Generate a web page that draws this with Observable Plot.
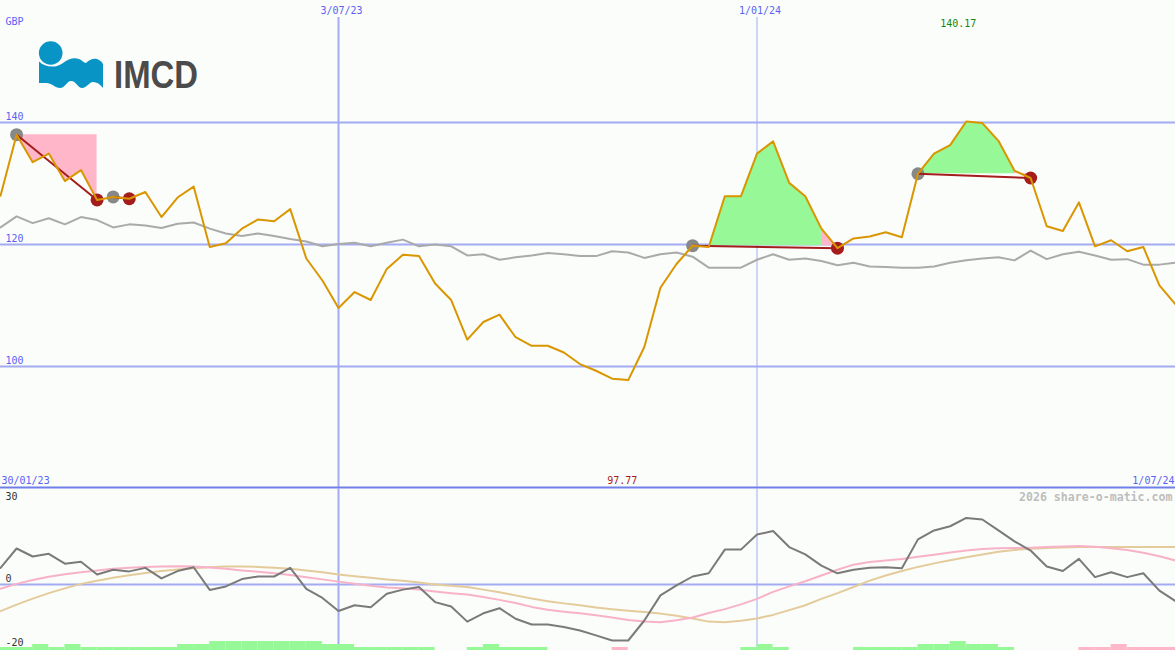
<!DOCTYPE html>
<html>
<head>
<meta charset="utf-8">
<script src="https://cdn.jsdelivr.net/npm/d3@7"></script>
<script src="https://cdn.jsdelivr.net/npm/@observablehq/plot@0.6"></script>
<style>
html, body { margin: 0; padding: 0; background: #fbfdfa; }
#chart { position: relative; width: 1175px; height: 650px; overflow: hidden; background: #fbfdfa; }
#chart > svg, #chart figure { display: block; margin: 0; }
#logo { position: absolute; left: 0; top: 0; }
</style>
</head>
<body>
<div id="chart"></div>
<script>
// ---------- data ----------
const startDate = "2023-02-06";
const endDate = "2024-07-01";
const currency = "GBP";
const rangeLabels = ["30/01/23", "1/07/24"];
const gridDates = ["2023-07-03", "2024-01-01"];
const gridLabels = ["3/07/23", "1/01/24"];
const yTicksTop = [140, 120, 100];
const yTicksBottom = [0, -20];
const yTopLabelBottom = 30;
const watermark = "2026 share-o-matic.com";

// weekly closing price (GBP)
const price = [
  128.0, 138.0, 133.5, 134.9, 130.4, 132.2, 127.3, 127.8, 127.5, 128.6,
  124.5, 127.7, 129.5, 119.6, 120.2, 122.6, 124.1, 123.8, 125.8, 117.7,
  114.1, 109.6, 112.2, 110.9, 116.0, 118.3, 118.1, 113.6, 110.9, 104.4,
  107.3, 108.5, 104.8, 103.4, 103.4, 102.3, 100.4, 99.3, 98.0, 97.77,
  103.2, 112.9, 116.8, 119.8, 119.6, 127.9, 127.9, 134.9, 136.9, 130.1,
  127.9, 122.6, 119.4, 121.0, 121.3, 122.0, 121.2, 131.6, 134.9, 136.3,
  140.17, 139.9, 137.0, 132.1, 130.9, 123.0, 122.2, 126.9, 119.7, 120.7,
  118.9, 119.6, 113.3, 110.2
];

// slow reference line (grey) in top panel
const refLine = [
  122.8, 124.6, 123.5, 124.3, 123.3, 124.5, 124.0, 122.8, 123.3, 123.1,
  122.7, 123.4, 123.6, 122.6, 121.8, 121.4, 121.8, 121.4, 120.9, 120.5,
  119.7, 120.1, 120.3, 119.7, 120.3, 120.8, 119.7, 120.0, 119.7, 118.2,
  118.4, 117.5, 117.9, 118.2, 118.6, 118.4, 118.1, 118.1, 118.9, 118.7,
  117.8, 118.4, 118.7, 118.0, 116.2, 116.2, 116.2, 117.5, 118.4, 117.5,
  117.7, 117.3, 116.6, 117.0, 116.4, 116.3, 116.2, 116.2, 116.4, 117.0,
  117.4, 117.7, 117.9, 117.4, 119.0, 117.6, 118.4, 118.8, 118.2, 117.5,
  117.6, 116.7, 116.7, 117.0
];

// oscillator (dark grey) in bottom panel
const oscillator = [
  5.2, 11.25, 8.75, 9.6, 6.5, 7.1, 3.1, 4.6, 4.1, 5.2,
  1.9, 4.2, 5.4, -1.7, -0.6, 1.7, 2.5, 2.5, 5.2, -1.35,
  -4.2, -8.3, -6.5, -7.1, -2.9, -1.6, -0.8, -5.5, -6.9, -11.6,
  -9.0, -7.4, -10.7, -12.5, -12.5, -13.3, -14.4, -15.9, -17.5, -17.5,
  -11.25, -3.4, -0.3, 2.5, 3.5, 10.9, 10.9, 15.6, 16.7, 11.7,
  9.4, 5.9, 3.5, 4.6, 5.2, 5.4, 5.1, 14.1, 16.9, 18.2,
  20.8, 20.3, 16.9, 13.5, 10.6, 5.6, 4.2, 8.0, 2.3, 3.85,
  2.3, 3.5, -1.9, -5.2
];

// faster smoothed line (pink)
const smoothFast = [
  -1.35, 0.2, 1.4, 2.4, 3.2, 3.85, 4.4, 4.9, 5.2, 5.5,
  5.6, 5.7, 5.6, 5.3, 4.9, 4.4, 4.0, 3.5, 3.0, 2.3,
  1.6, 0.9, 0.2, -0.4, -0.9, -1.2, -1.6, -2.2, -2.7, -3.1,
  -3.9, -4.8, -5.8, -7.0, -7.9, -8.5, -9.0, -9.6, -10.3, -11.1,
  -11.6, -11.8, -11.2, -10.3, -8.9, -7.7, -6.2, -4.5, -2.3, -0.6,
  1.0, 2.8, 4.6, 6.2, 7.0, 7.5, 8.0, 8.7, 9.3, 10.0,
  10.6, 11.1, 11.3, 11.4, 11.5, 11.7, 11.9, 12.0, 11.8, 11.3,
  10.8, 9.9, 8.8, 7.5
];

// slower smoothed line (tan)
const smoothSlow = [
  -8.3, -6.3, -4.4, -2.7, -1.2, 0.2, 1.2, 2.1, 2.9, 3.6,
  4.2, 4.7, 5.1, 5.4, 5.6, 5.6, 5.5, 5.2, 4.9, 4.4,
  3.8, 3.1, 2.6, 2.1, 1.6, 1.2, 0.6, 0.0, -0.4, -0.8,
  -1.6, -2.4, -3.4, -4.4, -5.2, -5.9, -6.5, -7.2, -7.7, -8.2,
  -8.6, -9.1, -9.8, -10.6, -11.6, -11.8, -11.3, -10.6, -9.5, -8.0,
  -6.5, -4.5, -2.7, -0.8, 1.2, 2.8, 4.2, 5.5, 6.6, 7.6,
  8.5, 9.4, 10.2, 10.8, 11.2, 11.4, 11.6, 11.7, 11.7, 11.7,
  11.7, 11.7, 11.7, 11.7
];

// weekly signal strength bars (+ = green, - = pink), one per week interval
const histLevels = [
  1, 1, 2, 1, 2, 1, 1, 1, 1, 1,
  1, 2, 2, 3, 3, 3, 3, 3, 3, 3,
  2, 2, 1, 1, 1, 1, 1, 0, 0, 1,
  2, 1, 1, 1, 0, 0, 0, 0, -1, 0,
  0, 0, 0, 0, 0, 0, 1, 2, 1, 0,
  0, 0, 0, 1, 1, 1, 1, 2, 2, 3,
  2, 2, 1, 0, 0, 0, 0, -1, -1, -2,
  -1, -1, -1
];

// trades: entry / exit week indices
const entryIdx = [1, 7, 43, 57];
const exitIdx = [6, 8, 52, 64];

// ---------- styling ----------
const C = {
  grid: "#a3acf2",
  sep: "#7080e8",
  label: "#5a62f4",
  orange: "#d99600",
  ref: "#aaaaaa",
  osc: "#7a7a7a",
  pinkLine: "#f8b2c8",
  tanLine: "#e4cb9b",
  green: "#96f896",
  pink: "#ffb6c8",
  red: "#a41c1c",
  entryDot: "#888888",
  maxText: "#118811",
  minText: "#a41c1c",
  dark: "#333333",
  mark: "#bdbdbd"
};
const mono = "DejaVu Sans Mono";
const W = 1175, HTOP = 488, HBOT = 162;
const botDomain = [-20.625, 30];
const histUnit = 0.9375;

const dates = price.map((_, i) => d3.utcDay.offset(new Date(startDate), 7 * i));
const xDomain = [new Date(startDate), new Date(endDate)];
const gDates = gridDates.map(d => new Date(d));

const rows = price.map((p, i) => ({
  date: dates[i], price: p, ref: refLine[i],
  osc: oscillator[i], fast: smoothFast[i], slow: smoothSlow[i]
}));

// trade fill segments
const greenSeg = [], pinkSeg = [];
entryIdx.forEach((e, k) => {
  const x = exitIdx[k];
  const base = price[e];
  const rose = price.slice(e + 1, x).some(v => v > base);
  const push = (arr, a, b) => {
    for (let i = a; i <= b; i++) arr.push({seg: k, date: dates[i], price: price[i], base});
  };
  if (rose) { push(greenSeg, e, x - 1); push(pinkSeg, x - 1, x); }
  else push(pinkSeg, e, x);
});
const trades = entryIdx.map((e, k) => ({
  d1: dates[e], p1: price[e], d2: dates[exitIdx[k]], p2: price[exitIdx[k]]
}));

const maxI = d3.maxIndex(price), minI = d3.minIndex(price);

const histRows = histLevels.map((lvl, k) => ({x1: dates[k], x2: dates[k + 1], lvl})).filter(d => d.lvl !== 0);

// ---------- top panel ----------
const topChart = Plot.plot({
  width: W, height: HTOP, margin: 0,
  style: {background: "transparent", overflow: "visible"},
  x: {type: "utc", domain: xDomain, axis: null},
  y: {domain: [80, 160], axis: null},
  marks: [
    Plot.ruleY(yTicksTop, {stroke: C.grid, strokeWidth: 2}),
    Plot.ruleX([gDates[0]], {stroke: C.grid, strokeWidth: 2, insetTop: 17}),
    Plot.ruleX([gDates[1]], {stroke: C.grid, strokeWidth: 1, insetTop: 17}),
    Plot.ruleY([80], {stroke: C.sep, strokeWidth: 2, dy: -1}),
    Plot.areaY(pinkSeg, {x: "date", y1: "base", y2: "price", z: "seg", fill: C.pink}),
    Plot.areaY(greenSeg, {x: "date", y1: "base", y2: "price", z: "seg", fill: C.green}),
    Plot.line(rows, {x: "date", y: "ref", stroke: C.ref, strokeWidth: 2}),
    Plot.dot(entryIdx, {x: i => dates[i], y: i => price[i], r: 6.5, fill: C.entryDot}),
    Plot.dot(exitIdx, {x: i => dates[i], y: i => price[i], r: 6.5, fill: C.red}),
    Plot.link(trades, {x1: "d1", y1: "p1", x2: "d2", y2: "p2", stroke: C.red, strokeWidth: 2}),
    Plot.line(rows, {x: "date", y: "price", stroke: C.orange, strokeWidth: 2}),
    // labels
    Plot.text([currency], {text: d => d, frameAnchor: "top-left", textAnchor: "start", lineAnchor: "bottom", dx: 5, dy: 24, fill: C.label, fontFamily: mono, fontSize: 10}),
    Plot.text(yTicksTop, {y: d => d, text: d => String(d), frameAnchor: "left", textAnchor: "start", lineAnchor: "bottom", dx: 5, dy: -3, fill: C.label, fontFamily: mono, fontSize: 10}),
    Plot.text(gDates, {x: d => d, text: (d, i) => gridLabels[i], frameAnchor: "top", lineAnchor: "bottom", dx: 3, dy: 13, fill: C.label, fontFamily: mono, fontSize: 10}),
    Plot.text([maxI], {x: i => dates[i], text: i => price[i].toFixed(2), frameAnchor: "top", lineAnchor: "bottom", dx: -8, dy: 26, fill: C.maxText, fontFamily: mono, fontSize: 10}),
    Plot.text([minI], {x: i => dates[i], text: i => price[i].toFixed(2), frameAnchor: "bottom", lineAnchor: "bottom", dx: -6, dy: -5, fill: C.minText, fontFamily: mono, fontSize: 10}),
    Plot.text([rangeLabels[0]], {text: d => d, frameAnchor: "bottom-left", textAnchor: "start", lineAnchor: "bottom", dx: 1, dy: -5, fill: C.label, fontFamily: mono, fontSize: 10}),
    Plot.text([rangeLabels[1]], {text: d => d, frameAnchor: "bottom-right", textAnchor: "end", lineAnchor: "bottom", dx: -1, dy: -5, fill: C.label, fontFamily: mono, fontSize: 10})
  ]
});

// ---------- bottom panel ----------
const bottomChart = Plot.plot({
  width: W, height: HBOT, margin: 0,
  style: {background: "transparent", overflow: "visible"},
  x: {type: "utc", domain: xDomain, axis: null},
  y: {domain: botDomain, axis: null},
  marks: [
    Plot.ruleY([0], {stroke: C.grid, strokeWidth: 2}),
    Plot.ruleX([gDates[0]], {stroke: C.grid, strokeWidth: 2}),
    Plot.ruleX([gDates[1]], {stroke: C.grid, strokeWidth: 1}),
    Plot.rectY(histRows.filter(d => d.lvl > 0), {x1: "x1", x2: "x2", y1: () => botDomain[0], y2: d => botDomain[0] + d.lvl * histUnit, fill: C.green}),
    Plot.rectY(histRows.filter(d => d.lvl < 0), {x1: "x1", x2: "x2", y1: () => botDomain[0], y2: d => botDomain[0] - d.lvl * histUnit, fill: C.pink}),
    Plot.line(rows, {x: "date", y: "slow", stroke: C.tanLine, strokeWidth: 2}),
    Plot.line(rows, {x: "date", y: "fast", stroke: C.pinkLine, strokeWidth: 2}),
    Plot.line(rows, {x: "date", y: "osc", stroke: C.osc, strokeWidth: 2}),
    Plot.text([yTopLabelBottom], {text: d => String(d), frameAnchor: "top-left", textAnchor: "start", lineAnchor: "bottom", dx: 5, dy: 11.5, fill: C.dark, fontFamily: mono, fontSize: 10}),
    Plot.text(yTicksBottom, {y: d => d, text: d => String(d), frameAnchor: "left", textAnchor: "start", lineAnchor: "bottom", dx: 5, dy: -3, fill: C.dark, fontFamily: mono, fontSize: 10}),
    Plot.text([watermark], {text: d => d, frameAnchor: "top-right", textAnchor: "end", lineAnchor: "bottom", dx: -3, dy: 12.5, fill: C.mark, fontFamily: mono, fontSize: 11.6, fontWeight: "bold"})
  ]
});

const chart = document.getElementById("chart");
chart.appendChild(topChart);
chart.appendChild(bottomChart);

// logo overlay
const ns = "http://www.w3.org/2000/svg";
const logo = document.createElementNS(ns, "svg");
logo.setAttribute("id", "logo");
logo.setAttribute("width", "220");
logo.setAttribute("height", "100");
logo.innerHTML = `
  <circle cx="50.7" cy="53" r="11.8" fill="#0895c6"/>
  <path d="M39,61.5 C45,67.5 56,68.5 63,63 C68,59 74,57 79,59 C82,60 84,63 86,63 C89,60 93,58 97,59 C100,60 102,62 103,64 L103,88 C100,84 97,82 93,82 C89,82 87,88 82,88 C78,88 76,81 71,81 C67,81 65,88 60,88 C55,88 52,83 46,83 C43,83 41,83 39,83 Z" fill="#0895c6"/>
  <text x="114" y="87.5" font-family="Liberation Sans, Arial, sans-serif" font-weight="bold" font-size="38" fill="#4b4b4b" textLength="84" lengthAdjust="spacingAndGlyphs">IMCD</text>`;
chart.appendChild(logo);
</script>
</body>
</html>
